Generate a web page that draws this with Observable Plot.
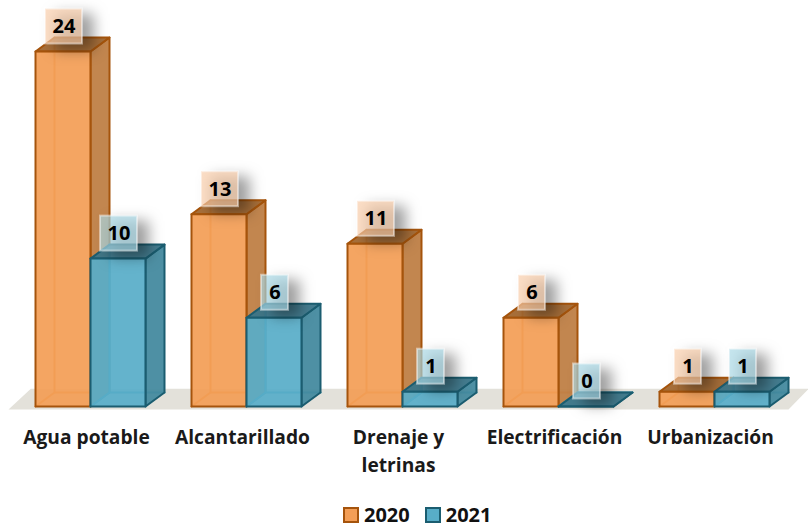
<!DOCTYPE html>
<html><head><meta charset="utf-8">
<script src="https://cdn.jsdelivr.net/npm/d3@7"></script>
<script src="https://cdn.jsdelivr.net/npm/@observablehq/plot@0.6"></script>
<style>
html,body{margin:0;padding:0;background:#fff;overflow:hidden;}
#chart svg{display:block;}
#legend{display:flex;align-items:center;height:17px;padding-left:343px;font:700 20px "Open Sans",sans-serif;color:#111;line-height:17px;}
#legend i{display:inline-block;flex:none;width:12px;height:12px;border-width:2px;border-style:solid;margin-right:5px;}
#legend span{margin-right:15px;}
</style></head><body>
<div id="chart"></div>
<div id="legend"></div>
<script>
const categories = ["Agua potable","Alcantarillado","Drenaje y\nletrinas","Electrificación","Urbanización"];
const values2020 = [24,13,11,6,1];
const values2021 = [10,6,1,0,1];
const seriesNames = ["2020","2021"];
const frontFill = ["#F39E56","#58ADC8"];
const sideFill  = ["#BF7F46","#458A9F"];
const topFill   = ["#A2672F","#3A7589"];
const edge      = ["#A5540C","#1B5D70"];
const innerEdge = ["#DD893C","#3A95B1"];
const boxFill   = ["#F9CDAA","#A9D8E6"];
const floorX = [-0.173,-0.03,4.956,4.827];
const floorY = [-0.2,1.2,1.2,-0.2];

// Chart units: one category = 1 on x, one count = 1 on y
const pxX = 156, pxY = 14.79;
const barW = 55/pxX, depthX = 19/pxX, depthY = 14/pxY;
const W = 808, H = 506;
const series = [values2020, values2021];

const face = (kind) => (s) => series[s].flatMap((v,i) => {
  const x0 = i + s*barW, x1 = x0 + barW;
  const shapes = {
    front: [[x0,0],[x1,0],[x1,v],[x0,v]],
    side:  [[x1,0],[x1+depthX,depthY],[x1+depthX,v+depthY],[x1,v]],
    top:   [[x0,v],[x1,v],[x1+depthX,v+depthY],[x0+depthX,v+depthY]]
  };
  return shapes[kind].map(([x,y]) => ({id:`${kind}${s}${i}`,x,y}));
});
const inner = (s) => series[s].flatMap((v,i) => {
  const x0 = i + s*barW, x1 = x0 + barW;
  return [
    [[x0,0],[x0+depthX,depthY],[x0+depthX,v+depthY]],
    [[x0+depthX,depthY],[x1+depthX,depthY]]
  ].flatMap((seg,k) => seg.map(([x,y]) => ({id:`in${s}${i}${k}`,x,y})));
});
const boxes = (s) => series[s].map((v,i) => {
  const cx = i + s*barW + barW/2 + 1/pxX, w = (String(v).length>1?37:27)/pxX;
  const cy = v + 25/pxY, h = 35/pxY;
  return {v, cx, x1:cx-w/2, x2:cx+w/2, y1:cy-h/2, y2:cy+h/2, ty:cy};
});
const poly = (data,fill,stroke,opacity=1) => Plot.line(data,{x:"x",y:"y",z:"id",curve:"linear-closed",fill,fillOpacity:opacity,stroke,strokeWidth:2,strokeLinejoin:"round"});

const marks = [
  Plot.line(floorX.map((x,k)=>({x,y:floorY[k]})),{x:"x",y:"y",curve:"linear-closed",fill:"#E3E1DA",stroke:"none"})
];
[0,1].forEach(s => {
  marks.push(
    Plot.line(inner(s),{x:"x",y:"y",z:"id",stroke:innerEdge[s],strokeWidth:2}),
    poly(face("side")(s),sideFill[s],edge[s],0.95),
    poly(face("top")(s),topFill[s],edge[s],0.95),
    poly(face("front")(s),frontFill[s],edge[s],0.93)
  );
});
[0,1].forEach(s => {
  marks.push(
    Plot.rect(boxes(s),{x1:"x1",x2:"x2",y1:"y1",y2:"y2",fill:boxFill[s],fillOpacity:0.68,stroke:"#fff",strokeOpacity:0.45,strokeWidth:2,imageFilter:"drop-shadow(11px 6px 7px rgba(0,0,0,.55))"}),
    Plot.text(boxes(s),{x:"cx",y:"ty",text:d=>String(d.v),fontSize:20,fontWeight:700,fontFamily:"Open Sans",fill:"#000"})
  );
});
marks.push(Plot.text(categories,{
  x:(d,i)=>i+51/pxX,
  y:()=>-18/pxY,
  text:d=>d,
  lineAnchor:"top",lineHeight:1.46,fontSize:19.2,fontWeight:700,fontFamily:"Open Sans",fill:"#1a1a1a"
}));

const chart = Plot.plot({
  width:W,height:H,margin:0,
  style:{background:"transparent"},
  x:{domain:[-35/pxX,(W-35)/pxX],range:[0,W],axis:null},
  y:{domain:[-(H-406)/pxY,406/pxY],range:[H,0],axis:null},
  marks
});
document.getElementById("chart").append(chart);

const legend = document.getElementById("legend");
seriesNames.forEach((n,s)=>{
  const i=document.createElement("i");i.style.background=frontFill[s];i.style.borderColor=edge[s];
  const t=document.createElement("span");t.textContent=n;
  legend.append(i,t);
});
</script>
</body></html>
